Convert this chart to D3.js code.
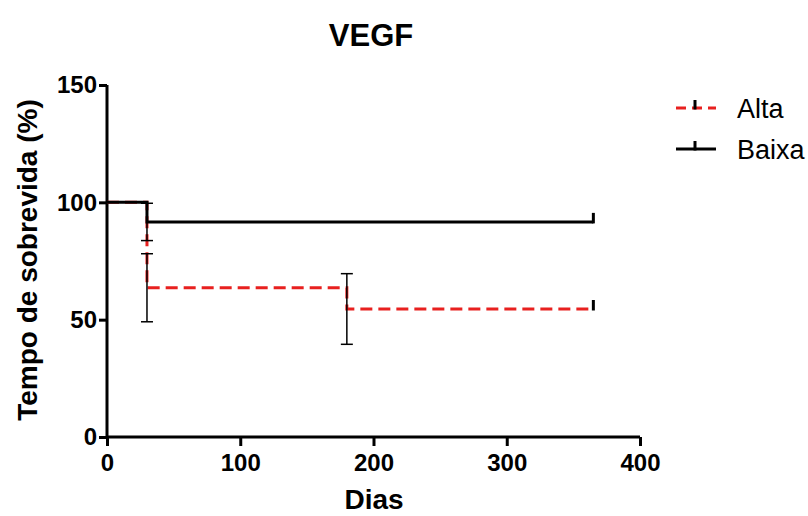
<!DOCTYPE html>
<html>
<head>
<meta charset="utf-8">
<script src="https://cdn.jsdelivr.net/npm/d3@7"></script>
<style>
  body { margin: 0; background: #fff; }
  svg { display: block; font-family: "Liberation Sans", Arial, sans-serif; }
</style>
</head>
<body>
<svg id="chart" width="808" height="516"></svg>
<script>
// Kaplan-Meier survival by VEGF level
const altaTimes = [0, 30, 180, 365];
const altaSurv = [100, 63.64, 54.55, 54.55];
const baixaTimes = [0, 30, 365];
const baixaSurv = [100, 91.67, 91.67];

// error bars (survival ± SE) at each event
const altaErrTimes = [30, 180];
const altaErrLow = [49.1, 39.5];
const altaErrHigh = [78.1, 69.6];
const baixaErrTimes = [30];
const baixaErrLow = [83.7];
const baixaErrHigh = [99.6];

// censored observations
const altaCensor = [365];
const baixaCensor = [365];

const xTicks = [0, 100, 200, 300, 400];
const yTicks = [0, 50, 100, 150];

const svg = d3.select("#chart");
const x = d3.scaleLinear().domain([0, 400]).range([107, 640]);
const y = d3.scaleLinear().domain([0, 150]).range([437, 85]);

const red = "#e8201f";

// title
svg.append("text").attr("x", 371).attr("y", 46).attr("text-anchor", "middle")
  .attr("font-size", 31).attr("font-weight", "bold").text("VEGF");

// axes
const xAxis = svg.append("g").attr("transform", `translate(0,${y(0)})`)
  .call(d3.axisBottom(x).tickValues(xTicks).tickSize(9).tickPadding(8));
const yAxis = svg.append("g").attr("transform", `translate(${x(0)},0)`)
  .call(d3.axisLeft(y).tickValues(yTicks).tickSize(8).tickPadding(2));
[xAxis, yAxis].forEach(g => {
  g.select(".domain").attr("stroke", "#000").attr("stroke-width", 3);
  g.selectAll(".tick line").attr("stroke", "#000").attr("stroke-width", 3);
  g.selectAll(".tick text").attr("fill", "#000").attr("font-size", 24)
    .attr("font-weight", "bold").attr("font-family", "Liberation Sans, Arial, sans-serif");
});
xAxis.select(".domain").attr("d", `M${x(0)},0H${x(400)}`);
yAxis.select(".domain").attr("d", `M0,${y(0)}V${y(150)}`);

// axis titles
svg.append("text").attr("x", 374).attr("y", 509).attr("text-anchor", "middle")
  .attr("font-size", 28).attr("font-weight", "bold").text("Dias");
svg.append("text").attr("transform", `translate(37,${y(75) - 1}) rotate(-90)`)
  .attr("text-anchor", "middle").attr("font-size", 28).attr("font-weight", "bold")
  .text("Tempo de sobrevida (%)");

const step = d3.line().x(d => x(d[0])).y(d => y(d[1])).curve(d3.curveStepAfter);

// error bars
function errBars(times, lo, hi) {
  times.forEach((t, i) => {
    const g = svg.append("g").attr("stroke", "#000").attr("stroke-width", 1.5);
    g.append("line").attr("x1", x(t)).attr("x2", x(t)).attr("y1", y(lo[i])).attr("y2", y(hi[i]));
    [lo[i], hi[i]].forEach(v => g.append("line")
      .attr("x1", x(t) - 6).attr("x2", x(t) + 6).attr("y1", y(v)).attr("y2", y(v)));
  });
}

// Alta curve
svg.append("path").datum(altaTimes.map((t, i) => [t, altaSurv[i]]))
  .attr("d", step).attr("fill", "none").attr("stroke", red).attr("stroke-width", 3)
  .attr("stroke-dasharray", "12,6");
altaCensor.forEach(t => svg.append("line").attr("x1", x(t)).attr("x2", x(t))
  .attr("y1", y(54.55) + 1.5).attr("y2", y(54.55) - 9).attr("stroke", "#000").attr("stroke-width", 3));

// Baixa curve
svg.append("path").datum(baixaTimes.map((t, i) => [t, baixaSurv[i]]))
  .attr("d", step).attr("fill", "none").attr("stroke", "#000").attr("stroke-width", 3);
baixaCensor.forEach(t => svg.append("line").attr("x1", x(t)).attr("x2", x(t))
  .attr("y1", y(91.67) + 1.5).attr("y2", y(91.67) - 9).attr("stroke", "#000").attr("stroke-width", 3));

errBars(baixaErrTimes, baixaErrLow, baixaErrHigh);
errBars(altaErrTimes, altaErrLow, altaErrHigh);

// legend
const leg = svg.append("g");
leg.append("line").attr("x1", 676).attr("x2", 716).attr("y1", 108).attr("y2", 108)
  .attr("stroke", red).attr("stroke-width", 3).attr("stroke-dasharray", "10,6");
leg.append("line").attr("x1", 695).attr("x2", 695).attr("y1", 109.5).attr("y2", 100)
  .attr("stroke", "#000").attr("stroke-width", 3);
leg.append("text").attr("x", 737).attr("y", 118).attr("font-size", 27).text("Alta");
leg.append("line").attr("x1", 676).attr("x2", 716).attr("y1", 149).attr("y2", 149)
  .attr("stroke", "#000").attr("stroke-width", 3);
leg.append("line").attr("x1", 695).attr("x2", 695).attr("y1", 150.5).attr("y2", 141)
  .attr("stroke", "#000").attr("stroke-width", 3);
leg.append("text").attr("x", 737).attr("y", 159).attr("font-size", 27).text("Baixa");
</script>
</body>
</html>
